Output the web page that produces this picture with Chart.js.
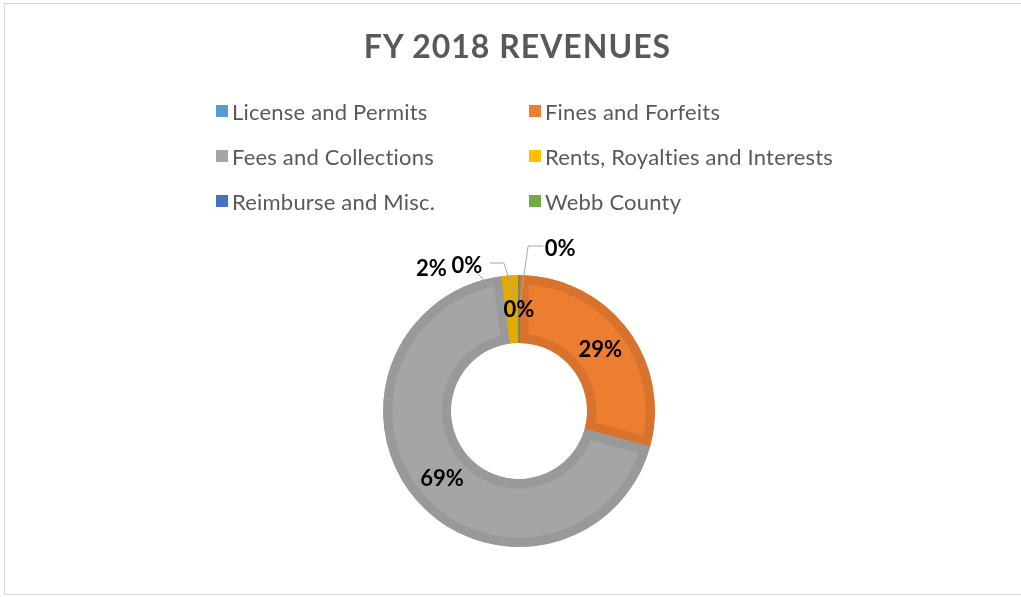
<!DOCTYPE html>
<html>
<head>
<meta charset="utf-8">
<script src="https://cdn.jsdelivr.net/npm/chart.js@4/dist/chart.umd.min.js"></script>
<style>
    html, body { margin: 0; padding: 0; background: #fff; }
    body { width: 1021px; height: 597px; position: relative; overflow: hidden; font-family: 'Lato', sans-serif; }
    #frame { position: absolute; left: 4px; top: 3px; width: 1030px; height: 592px; border: 1px solid #d9d9d9; box-sizing: border-box; }
    #chartBox { position: absolute; left: 0; top: 0; width: 1021px; height: 597px; }
    #title { position: absolute; left: 0; width: 1035px; top: 26px; text-align: center; font-weight: bold; font-size: 32px; color: #595959; letter-spacing: 1px; }
    #legend { position: absolute; left: 216px; top: 98px; display: grid; grid-template-columns: 313px 313px; grid-auto-rows: 45px; }
    .item { display: flex; align-items: center; height: 26px; font-size: 22px; color: #595959; letter-spacing: 0.2px; }
    .swatch { width: 12px; height: 12px; margin-right: 4px; flex: none; }
</style>
</head>
<body>
<div id="frame"></div>
<div id="chartBox"><canvas id="revenueChart" width="1021" height="597"></canvas></div>
<div id="title">FY 2018 REVENUES</div>
<div id="legend"></div>

<script>
// Revenue categories and shares (percent of total)
const categories = ['License and Permits', 'Fines and Forfeits', 'Fees and Collections',
    'Rents, Royalties and Interests', 'Reimburse and Misc.', 'Webb County'];
const revenueShare = [0.05, 29.2, 68.7, 2.0, 0.02, 0.02];

const fillColors = ['#5b9bd5', '#ed7d31', '#a5a5a5', '#ffc000', '#4472c4', '#70ad47'];
const edgeColors = ['#5089c0', '#d8732e', '#999999', '#e3aa00', '#3c66af', '#64993f'];

// label placement for the tiny slices (offset from slice centre, then leader bends)
const labelOffsets = [[41, -61], null, null, [-81, -41], [-52, -44], null];
const leaderBends = [[[-17, -2], [-32, -2]], null, null, [[45, 4]], [[23, -2], [37, -2]], null];

// Legend built from the same arrays
const legendEl = document.getElementById('legend');
categories.forEach((name, i) => {
    const item = document.createElement('div');
    item.className = 'item';
    item.innerHTML = '<span class="swatch" style="background:' + fillColors[i] + '"></span>' + name;
    legendEl.appendChild(item);
});

const dataLabels = {
    id: 'dataLabels',
    afterDatasetsDraw(chart) {
        const ctx = chart.ctx;
        const data = chart.data.datasets[0].data;
        const total = data.reduce((a, b) => a + b, 0);
        const arcs = chart.getDatasetMeta(0).data;
        ctx.save();
        ctx.font = "bold 22px 'Lato', sans-serif";
        ctx.textAlign = 'center';
        ctx.textBaseline = 'middle';
        arcs.forEach((arc, i) => {
            const pos = arc.tooltipPosition();
            const text = Math.round(data[i] / total * 100) + '%';
            let lx = pos.x, ly = pos.y;
            if (labelOffsets[i]) {
                lx = pos.x + labelOffsets[i][0];
                ly = pos.y + labelOffsets[i][1];
                ctx.strokeStyle = '#a6a6a6';
                ctx.lineWidth = 1;
                ctx.beginPath();
                leaderBends[i].forEach((p, k) => {
                    if (k === 0) ctx.moveTo(lx + p[0], ly + p[1]);
                    else ctx.lineTo(lx + p[0], ly + p[1]);
                });
                ctx.lineTo(pos.x, pos.y);
                ctx.stroke();
            }
            ctx.fillStyle = '#000';
            ctx.fillText(text, lx, ly + 1);
        });
        ctx.restore();
    }
};

new Chart(document.getElementById('revenueChart'), {
    type: 'doughnut',
    data: {
        labels: categories,
        datasets: [{
            data: revenueShare,
            backgroundColor: fillColors,
            borderColor: edgeColors,
            borderWidth: 9,
            borderAlign: 'inner'
        }]
    },
    options: {
        responsive: false,
        animation: false,
        cutout: '50%',
        layout: { padding: { left: 383, right: 366, top: 275, bottom: 50 } },
        plugins: {
            legend: { display: false },
            tooltip: { enabled: false }
        }
    },
    plugins: [dataLabels]
});
</script>
</body>
</html>
